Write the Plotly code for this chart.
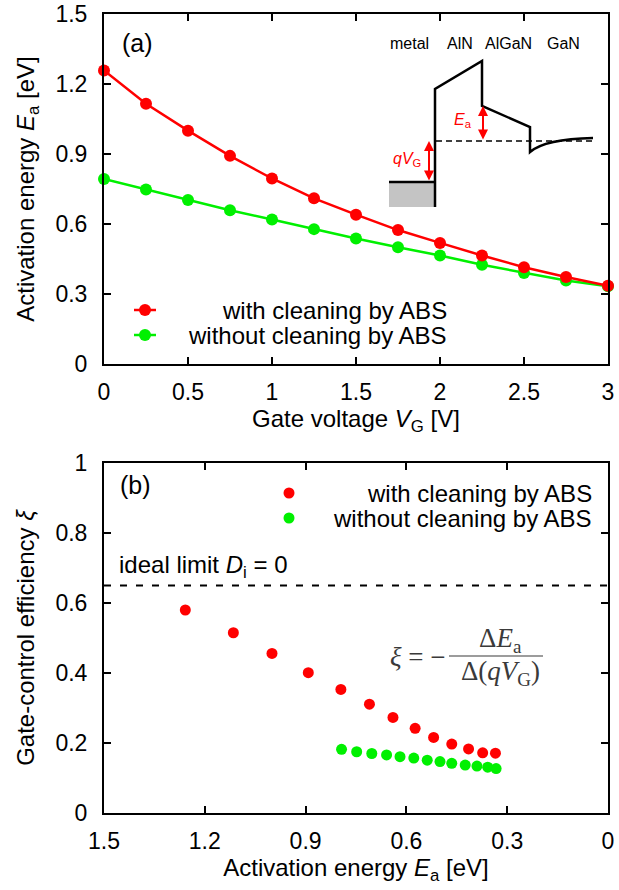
import plotly.graph_objects as go

# ---------------- data ----------------
VG = [0, 0.25, 0.5, 0.75, 1.0, 1.25, 1.5, 1.75, 2.0, 2.25, 2.5, 2.75, 3.0]
EA_CLEAN = [1.258, 1.115, 1.0, 0.892, 0.795, 0.71, 0.64, 0.574, 0.519, 0.465, 0.415, 0.373, 0.335]
EA_NOCLEAN = [0.793, 0.748, 0.703, 0.659, 0.619, 0.578, 0.538, 0.500, 0.465, 0.425, 0.390, 0.358, 0.333]
XI_CLEAN = [0.58, 0.515, 0.456, 0.401, 0.353, 0.311, 0.273, 0.242, 0.216, 0.197, 0.183, 0.172, 0.171]
XI_NOCLEAN = [0.182, 0.175, 0.170, 0.166, 0.161, 0.157, 0.151, 0.147, 0.142, 0.137, 0.134, 0.131, 0.127]
IDEAL_XI = 0.65

SERIES_NAMES = ["with cleaning by ABS", "without cleaning by ABS"]
VG_TICKS = [0, 0.5, 1, 1.5, 2, 2.5, 3]
VG_TICKTEXT = ["0", "0.5", "1", "1.5", "2", "2.5", "3"]
EA_TICKS = [0, 0.3, 0.6, 0.9, 1.2, 1.5]
EA_TICKTEXT = ["0", "0.3", "0.6", "0.9", "1.2", "1.5"]
XI_TICKS = [0, 0.2, 0.4, 0.6, 0.8, 1.0]
XI_TICKTEXT = ["0", "0.2", "0.4", "0.6", "0.8", "1"]
LAYERS = ["metal", "AlN", "AlGaN", "GaN"]

# ---------------- style ----------------
W, H = 619, 890
ML, MR, MT, MB = 104, 11, 14, 77
PW, PH = W - ML - MR, H - MT - MB
FONT = "Liberation Sans, Arial, sans-serif"
SERIF = "Liberation Serif, DejaVu Serif, serif"
RED = "#ff0000"
GREEN = "#00f000"
FS = 24
TFS = 23


def px(x):
    return (x - ML) / PW


def py(y):
    return (H - MB - y) / PH


def pt(x, y):
    return f"{px(x):.5f},{py(y):.5f}"


fig = go.Figure()

# ---------------- panel (a) ----------------
fig.add_trace(go.Scatter(x=VG, y=EA_NOCLEAN, mode="lines+markers", name=SERIES_NAMES[1],
                         line=dict(color=GREEN, width=2.5), marker=dict(size=12, color=GREEN),
                         cliponaxis=False, showlegend=False, xaxis="x", yaxis="y"))
fig.add_trace(go.Scatter(x=VG, y=EA_CLEAN, mode="lines+markers", name=SERIES_NAMES[0],
                         line=dict(color=RED, width=2.5), marker=dict(size=12, color=RED),
                         cliponaxis=False, showlegend=False, xaxis="x", yaxis="y"))

# ---------------- panel (b) ----------------
fig.add_trace(go.Scatter(x=EA_CLEAN, y=XI_CLEAN, mode="markers", name=SERIES_NAMES[0],
                         marker=dict(size=11, color=RED), cliponaxis=False, showlegend=False,
                         xaxis="x2", yaxis="y2"))
fig.add_trace(go.Scatter(x=EA_NOCLEAN, y=XI_NOCLEAN, mode="markers", name=SERIES_NAMES[1],
                         marker=dict(size=11, color=GREEN), cliponaxis=False, showlegend=False,
                         xaxis="x2", yaxis="y2"))

axis_common = dict(showline=True, linecolor="black", linewidth=2, mirror="ticks",
                   ticks="inside", ticklen=7, tickwidth=2, tickcolor="black",
                   showgrid=False, zeroline=False, automargin=False,
                   tickfont=dict(family=FONT, size=TFS, color="black"))

fig.update_layout(
    width=W, height=H,
    margin=dict(l=ML, r=MR, t=MT, b=MB),
    paper_bgcolor="white", plot_bgcolor="white",
    font=dict(family=FONT, size=FS, color="black"),
    showlegend=False,
    xaxis=dict(axis_common, domain=[0, 1], range=[0, 3], anchor="y",
               tickvals=VG_TICKS, ticktext=VG_TICKTEXT, ticklabelstandoff=6,
               title=dict(text="Gate voltage <i>V</i><sub>G</sub> [V]", standoff=0,
                          font=dict(family=FONT, size=FS))),
    yaxis=dict(axis_common, domain=[py(364), 1], range=[0, 1.5], anchor="x",
               tickvals=EA_TICKS, ticktext=EA_TICKTEXT, ticklabelstandoff=10,
               title=dict(text="Activation energy <i>E</i><sub>a</sub> [eV]", standoff=14,
                          font=dict(family=FONT, size=FS))),
    xaxis2=dict(axis_common, domain=[0, 1], range=[1.5, 0], anchor="y2",
                tickvals=EA_TICKS, ticktext=EA_TICKTEXT, ticklabelstandoff=6,
                title=dict(text="Activation energy <i>E</i><sub>a</sub> [eV]", standoff=0,
                           font=dict(family=FONT, size=FS))),
    yaxis2=dict(axis_common, domain=[0, py(463)], range=[0, 1], anchor="x2",
                tickvals=XI_TICKS, ticktext=XI_TICKTEXT, ticklabelstandoff=10,
                title=dict(text="Gate-control efficiency <i>ξ</i>", standoff=14,
                           font=dict(family=FONT, size=FS))),
)

shapes = []
ann = []

# ideal limit line in (b)
shapes.append(dict(type="line", xref="x2 domain", yref="y2", x0=0, x1=1, y0=IDEAL_XI, y1=IDEAL_XI,
                   line=dict(color="black", width=2, dash="7px,9px")))
ann.append(dict(xref="paper", yref="paper", x=px(117), y=py(566), xanchor="left", yanchor="middle",
                text="ideal limit <i>D</i><sub>i</sub> = 0", showarrow=False,
                font=dict(family=FONT, size=FS, color="black")))

# panel labels
ann.append(dict(xref="paper", yref="paper", x=px(120), y=py(43), xanchor="left", yanchor="middle",
                text="(a)", showarrow=False, font=dict(family=FONT, size=25, color="black")))
ann.append(dict(xref="paper", yref="paper", x=px(118), y=py(485), xanchor="left", yanchor="middle",
                text="(b)", showarrow=False, font=dict(family=FONT, size=25, color="black")))

# legend (a)
for i, (col, yy) in enumerate([(RED, 310), (GREEN, 335)]):
    shapes.append(dict(type="line", xref="paper", yref="paper", x0=px(134), x1=px(156),
                       y0=py(yy), y1=py(yy), line=dict(color=col, width=2.5)))
    shapes.append(dict(type="circle", xref="paper", yref="paper", x0=px(139), x1=px(151),
                       y0=py(yy + 6), y1=py(yy - 6), fillcolor=col, line=dict(color=col, width=0)))
    ann.append(dict(xref="paper", yref="paper", x=px(449), y=py(yy), xanchor="right", yanchor="middle",
                    text=SERIES_NAMES[i], showarrow=False,
                    font=dict(family=FONT, size=FS, color="black")))

# legend (b)
for i, (col, yy) in enumerate([(RED, 493), (GREEN, 518)]):
    shapes.append(dict(type="circle", xref="paper", yref="paper", x0=px(283.5), x1=px(294.5),
                       y0=py(yy + 5.5), y1=py(yy - 5.5), fillcolor=col, line=dict(color=col, width=0)))
    ann.append(dict(xref="paper", yref="paper", x=px(594), y=py(yy), xanchor="right", yanchor="middle",
                    text=SERIES_NAMES[i], showarrow=False,
                    font=dict(family=FONT, size=FS, color="black")))

# formula in (b)
FCOL = "#3a3a3a"
SUB = '<span style="font-size:19px">'
ann.append(dict(xref="paper", yref="paper", x=px(448), y=py(657), xanchor="right", yanchor="middle",
                text="<i>ξ</i> = −", showarrow=False, font=dict(family=SERIF, size=27, color=FCOL)))
shapes.append(dict(type="line", xref="paper", yref="paper", x0=px(449), x1=px(543),
                   y0=py(656), y1=py(656), line=dict(color=FCOL, width=1.2)))
ann.append(dict(xref="paper", yref="paper", x=px(500), y=py(640), xanchor="center", yanchor="middle",
                text="Δ<i>E</i><sub>" + SUB + "a</span></sub>", showarrow=False,
                font=dict(family=SERIF, size=27, color=FCOL)))
ann.append(dict(xref="paper", yref="paper", x=px(500), y=py(673), xanchor="center", yanchor="middle",
                text="Δ(<i>qV</i><sub>" + SUB + "G</span></sub>)", showarrow=False,
                font=dict(family=SERIF, size=27, color=FCOL)))

# ---------------- inset band diagram ----------------
for name, xc in zip(LAYERS, [409, 460, 508, 563]):
    ann.append(dict(xref="paper", yref="paper", x=px(xc), y=py(43), xanchor="center", yanchor="middle",
                    text=name, showarrow=False, font=dict(family=FONT, size=16, color="black")))

shapes.append(dict(type="rect", xref="paper", yref="paper", x0=px(389), x1=px(435),
                   y0=py(207), y1=py(182), fillcolor="#c4c4c4", line=dict(width=0)))
band = "M " + pt(389, 182) + " L " + pt(435, 182) + " M " + pt(435, 207) + " L " + pt(435, 89) + \
       " L " + pt(482, 61) + " L " + pt(482, 106) + " L " + pt(530, 127) + " L " + pt(530, 152) + \
       " Q " + pt(545, 139) + " " + pt(593, 138)
shapes.append(dict(type="path", xref="paper", yref="paper", path=band,
                   line=dict(color="black", width=2.5)))
shapes.append(dict(type="line", xref="paper", yref="paper", x0=px(436), x1=px(593),
                   y0=py(141), y1=py(141), line=dict(color="black", width=1.5, dash="6px,4px")))

# red double arrows
for xa, ytop, ybot in [(483, 106, 141), (429, 141, 182)]:
    ann.append(dict(xref="paper", yref="paper", x=px(xa), y=py(ytop), ax=0, ay=ybot - ytop,
                    text="", showarrow=True, arrowside="end+start", arrowhead=2, arrowsize=1,
                    arrowwidth=2, arrowcolor=RED, standoff=0, startstandoff=0))
ann.append(dict(xref="paper", yref="paper", x=px(474), y=py(121), xanchor="right", yanchor="middle",
                text="<i>E</i><sub>a</sub>", showarrow=False, font=dict(family=FONT, size=16, color=RED)))
ann.append(dict(xref="paper", yref="paper", x=px(423), y=py(159), xanchor="right", yanchor="middle",
                text="<i>qV</i><sub>G</sub>", showarrow=False, font=dict(family=FONT, size=16, color=RED)))

fig.update_layout(shapes=shapes, annotations=ann)

fig.write_html("out.html")
